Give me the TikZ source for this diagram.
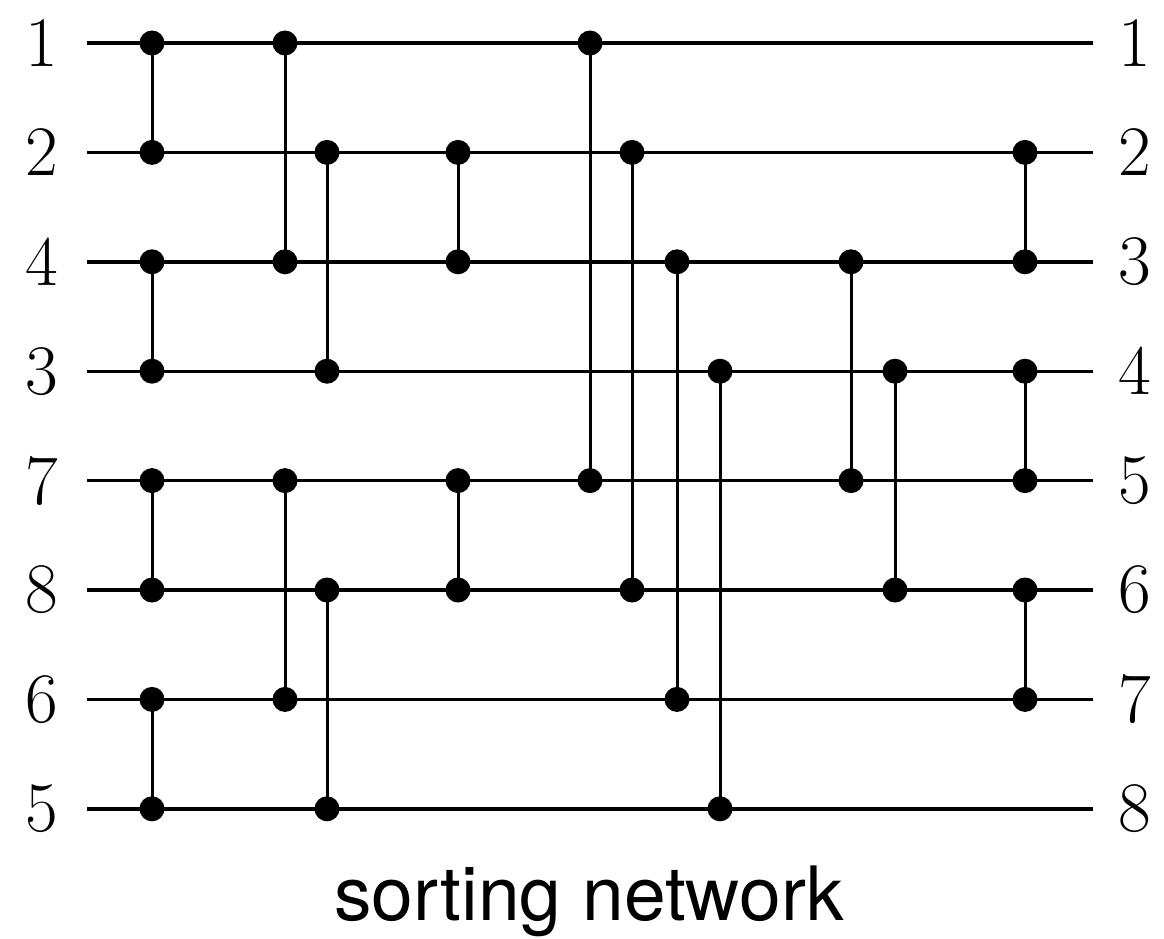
\documentclass[tikz,border=0pt]{standalone}
\usepackage{fontspec}
\newfontfamily\captionfont{TeX Gyre Heros}
\begin{document}
\begin{tikzpicture}[x=1pt,y=-1pt,
  wire/.style={line width=3.4pt},
  link/.style={line width=3pt},
  dot/.style={circle,fill=black,inner sep=0pt,minimum size=25pt},
  num/.style={inner sep=0pt,font=\fontsize{71}{71}\selectfont}]
\useasboundingbox (0,0) rectangle (1164,939);
% wires with input and output labels
\foreach \i/\a/\b in {1/1/1,2/2/2,3/4/3,4/3/4,5/7/5,6/8/6,7/6/7,8/5/8}{
  \coordinate (s\i) at (87,{43+(\i-1)*109.4});
  \coordinate (e\i) at (1093,{43+(\i-1)*109.4});
  \node[num] (in\i) at (42,{43+(\i-1)*109.4}) {\a};
  \node[num] (out\i) at (1135,{43+(\i-1)*109.4}) {\b};
  \draw[wire] (s\i) -- (e\i);
}
% comparators: column x / upper wire / lower wire
\foreach \x/\p/\q [count=\k] in {152/1/2,152/3/4,152/5/6,152/7/8,
  285/1/3,285/5/7,327/2/4,327/6/8,458/2/3,458/5/6,
  590/1/5,632/2/6,677/3/7,720/4/8,851/3/5,895/4/6,
  1025/2/3,1025/4/5,1025/6/7}{
  \node[dot] (c\k a) at (\x,{43+(\p-1)*109.4}) {};
  \node[dot] (c\k b) at (\x,{43+(\q-1)*109.4}) {};
  \draw[link] (c\k a.center) -- (c\k b.center);
}
\node[anchor=base,inner sep=0pt,font=\captionfont\fontsize{75}{75}\selectfont] (title) at (589,920) {sorting network};
\end{tikzpicture}
\end{document}
